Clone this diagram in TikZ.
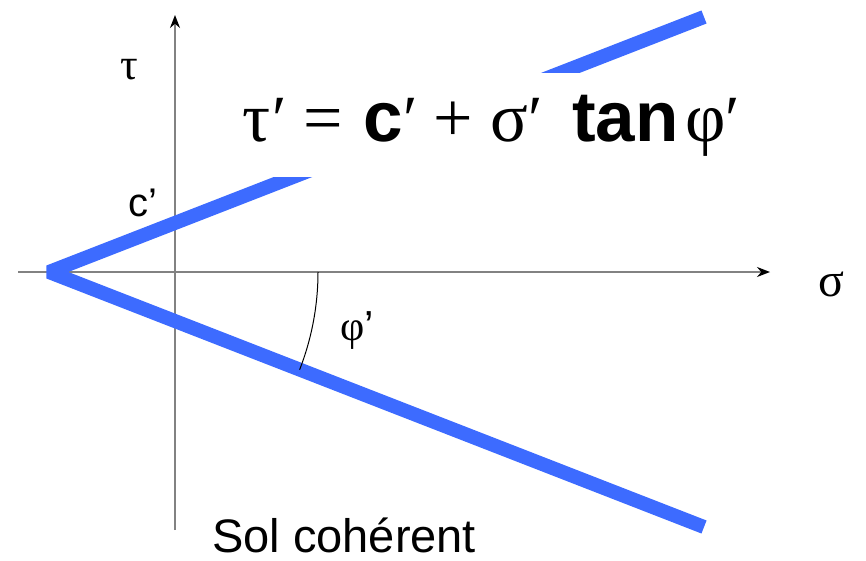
\documentclass[tikz,border=0pt]{standalone}
\usepackage{fontspec}
\setmainfont{Liberation Sans}
\newfontfamily\grk{Liberation Serif}
\usetikzlibrary{arrows.meta}
\definecolor{lineblue}{RGB}{61,107,255}
\definecolor{axisgray}{RGB}{130,130,130}
\tikzset{
  axisline/.style={draw=axisgray,line width=1.5pt,-{Stealth[length=13pt,width=10pt,color=black]}},
  envelope/.style={draw=lineblue,line width=14pt,line join=bevel},
  lbl/.style={inner sep=0pt,anchor=base west},
}
\newcommand{\gk}[1]{{\fontsize{70}{74}\selectfont\grk #1}}
\newcommand{\prm}{{\fontsize{66}{70}\selectfont\grk ′}}
\newcommand{\ops}[1]{{\fontsize{70}{74}\selectfont\grk #1}}
\newcommand{\bld}[1]{{\fontsize{71}{74}\selectfont\bfseries #1}}
\begin{document}
\begin{tikzpicture}[x=1pt,y=-1pt]
\useasboundingbox (0,0) rectangle (866,561);
\coordinate (xs) at (18,272);
\coordinate (xe) at (770,272);
\coordinate (ys) at (175,530);
\coordinate (ye) at (175,15);
\draw[axisline] (xs) -- (xe);
\draw[axisline] (ys) -- (ye);
\coordinate (v) at (49,272);
\coordinate (ue) at (704,17);
\coordinate (le) at (704,527);
\draw[envelope] (ue) -- (v) -- (le);
\node[fill=white,inner sep=0pt,minimum width=470pt,minimum height=104pt,anchor=north west] (cover) at (225,73) {};
\draw[black,line width=1pt] (v) ++(0:269) arc (0:21.3:269);
\node[lbl] (eq) at (242,142) {%
\makebox[30pt][l]{\gk{τ}}%
\makebox[31pt][l]{\prm}%
\makebox[60pt][l]{\ops{=}}%
\makebox[40pt][l]{\bld{c}}%
\makebox[30pt][l]{\prm}%
\makebox[57pt][l]{\ops{+}}%
\makebox[38pt][l]{\gk{σ}}%
\makebox[44pt][l]{\prm}%
\makebox[113pt][l]{\bld{tan}}%
\gk{φ}\prm};
\node[lbl] (tau) at (120,80) {\fontsize{44}{46}\selectfont\grk τ};
\node[lbl] (c) at (128,217) {\fontsize{40}{42}\selectfont c'};
\node[lbl] (sig) at (818,296) {\fontsize{48}{50}\selectfont\grk σ};
\node[lbl] (phi) at (340,340) {\fontsize{42}{44}\selectfont{\grk φ}'};
\node[lbl] (sol) at (212,552) {\fontsize{47}{50}\selectfont Sol cohérent};
\end{tikzpicture}
\end{document}
